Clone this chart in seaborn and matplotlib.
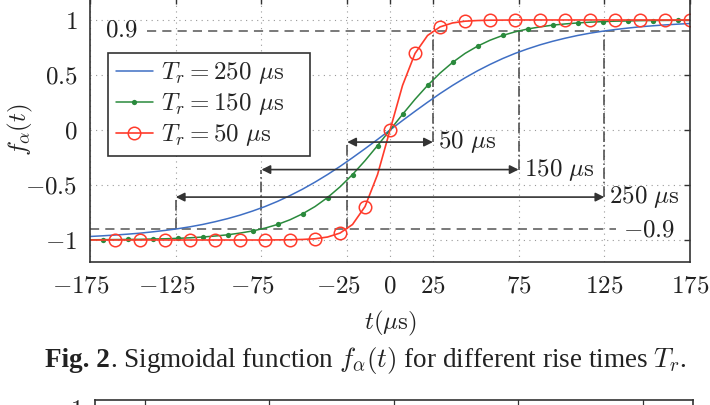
import matplotlib
matplotlib.use("Agg")
import matplotlib.pyplot as plt
from matplotlib.lines import Line2D
from matplotlib.ticker import FuncFormatter
from matplotlib.transforms import ScaledTranslation
import seaborn as sns

# time axis in microseconds
t_us = [-175.0, -167.71, -160.42, -153.13, -145.83, -138.54, -131.25, -123.96,
        -116.67, -109.38, -102.08, -94.79, -87.5, -80.21, -72.92, -65.63,
        -58.33, -51.04, -43.75, -36.46, -29.17, -21.88, -14.58, -7.29, 0.0,
        7.29, 14.58, 21.88, 29.17, 36.46, 43.75, 51.04, 58.33, 65.63, 72.92,
        80.21, 87.5, 94.79, 102.08, 109.38, 116.67, 123.96, 131.25, 138.54,
        145.83, 153.13, 160.42, 167.71, 175.0]

# f_alpha(t) for Tr = 250 us
f_250 = [-0.968, -0.962, -0.955, -0.947, -0.938, -0.926, -0.913, -0.898,
         -0.880, -0.859, -0.834, -0.806, -0.774, -0.737, -0.696, -0.649,
         -0.596, -0.538, -0.474, -0.405, -0.331, -0.252, -0.170, -0.086, 0.0,
         0.086, 0.170, 0.252, 0.331, 0.405, 0.474, 0.538, 0.596, 0.649, 0.696,
         0.737, 0.774, 0.806, 0.834, 0.859, 0.880, 0.898, 0.913, 0.926, 0.938,
         0.947, 0.955, 0.962, 0.968]

# f_alpha(t) for Tr = 150 us
f_150 = [-0.998, -0.997, -0.996, -0.995, -0.994, -0.991, -0.989, -0.985,
         -0.980, -0.973, -0.964, -0.953, -0.937, -0.918, -0.892, -0.859,
         -0.816, -0.762, -0.696, -0.614, -0.517, -0.405, -0.279, -0.142, 0.0,
         0.142, 0.279, 0.405, 0.517, 0.614, 0.696, 0.762, 0.816, 0.859, 0.892,
         0.918, 0.937, 0.953, 0.964, 0.973, 0.980, 0.985, 0.989, 0.991, 0.994,
         0.995, 0.996, 0.997, 0.998]

# f_alpha(t) for Tr = 50 us
f_50 = [-1.0, -1.0, -1.0, -1.0, -1.0, -1.0, -1.0, -1.0, -1.0, -1.0, -1.0,
        -1.0, -1.0, -1.0, -1.0, -0.999, -0.998, -0.995, -0.989, -0.973,
        -0.937, -0.859, -0.696, -0.405, 0.0, 0.405, 0.696, 0.859, 0.937,
        0.973, 0.989, 0.995, 0.998, 0.999, 1.0, 1.0, 1.0, 1.0, 1.0, 1.0, 1.0,
        1.0, 1.0, 1.0, 1.0, 1.0, 1.0, 1.0, 1.0]

x_ticks = [-175, -125, -75, -25, 0, 25, 75, 125, 175]
y_ticks = [-1, -0.5, 0, 0.5, 1]

# rise time spans (arrows)
span_start = [-25, -75, -125]
span_end = [25, 75, 125]
span_y = [-0.11, -0.36, -0.61]
span_text = [r"$50\ \mu\mathrm{s}$", r"$150\ \mu\mathrm{s}$", r"$250\ \mu\mathrm{s}$"]
level = 0.9

# next figure, only its top edge is visible
next_grid = [0.4, 1.4, 2.4, 3.4, 4.4]

blue = "#3f6fc4"
green = "#2a8a3c"
red = "#ff3b2b"
dark = "#333333"
ink = "#222222"
fs = 18

sns.set_theme(style="white")
plt.rcParams.update({
    "font.family": "serif",
    "mathtext.fontset": "cm",
})


def math_tick(v, pos):
    return "$%g$" % v


fig = plt.figure(figsize=(7.1, 4.05), dpi=100)
ax = fig.add_axes([0.1268, 0.3531, 0.8451, 0.6519])

sns.lineplot(x=t_us, y=f_250, ax=ax, color=blue, lw=1.1,
             label=r"$T_r = 250\ \mu\mathrm{s}$")
sns.lineplot(x=t_us, y=f_150, ax=ax, color=green, lw=1.1, marker="o",
             markersize=3.8, markeredgewidth=0, markevery=slice(1, None, 2),
             label=r"$T_r = 150\ \mu\mathrm{s}$")
sns.lineplot(x=t_us, y=f_50, ax=ax, color=red, lw=1.2, marker="o",
             markersize=9, markerfacecolor="none", markeredgecolor=red,
             markeredgewidth=1.1, markevery=slice(2, None, 2),
             label=r"$T_r = 50\ \mu\mathrm{s}$")

# +-0.9 levels
ax.hlines(level, -142, 175, colors="#555555", lw=1.1, linestyles=(0, (6, 4)), zorder=1)
ax.hlines(-level, -175, 132, colors="#555555", lw=1.1, linestyles=(0, (6, 4)), zorder=1)
ax.text(-166, 0.91, r"$0.9$", ha="left", va="center", fontsize=fs, color=ink)
ax.text(136, -0.91, r"$-0.9$", ha="left", va="center", fontsize=fs, color=ink)

# rise time markers
ax.vlines(span_end, span_y, level, colors="#444444", lw=1.1,
          linestyles=(0, (7, 2, 1, 2)), zorder=1)
ax.vlines(span_start, [-level] * 3, span_y, colors="#444444", lw=1.1,
          linestyles=(0, (7, 2, 1, 2)), zorder=1)
for s, e, y, txt in zip(span_start, span_end, span_y, span_text):
    ax.annotate("", xy=(e, y), xytext=(s, y),
                arrowprops=dict(arrowstyle="<|-|>", color=dark, lw=1.2,
                                mutation_scale=13, shrinkA=0, shrinkB=0))
    ax.text(e + 3, y, txt, ha="left", va="center", fontsize=fs, color=ink)

ax.set_xlim(-175, 175)
ax.set_ylim(-1.2, 1.2)
ax.set_xticks(x_ticks)
ax.set_yticks(y_ticks)
ax.xaxis.set_major_formatter(FuncFormatter(math_tick))
ax.yaxis.set_major_formatter(FuncFormatter(math_tick))
ax.grid(True, color="#999999", lw=0.8, linestyle=(0, (1, 4)))
ax.set_axisbelow(True)
for sp in ax.spines.values():
    sp.set_color(dark)
    sp.set_linewidth(1.2)
ax.tick_params(direction="in", length=4, width=1, top=True, right=True,
               color=dark, labelcolor=ink, labelsize=fs, pad=9)
ax.set_xlabel(r"$t(\mu\mathrm{s})$", fontsize=fs, labelpad=8, color=ink)
ax.set_ylabel(r"$f_\alpha(t)$", fontsize=fs, color=ink)
ax.yaxis.set_label_coords(-0.092, 0.5)

# negative labels: digits centred on the tick, minus sign hangs left
shift = ScaledTranslation(-0.09, 0, fig.dpi_scale_trans)
for tick, loc in zip(ax.xaxis.get_major_ticks(), x_ticks):
    if loc < 0:
        tick.label1.set_transform(tick.label1.get_transform() + shift)

# legend, with an empty second column that widens the box on the right
handles, labels = ax.get_legend_handles_labels()
blank = [Line2D([], [], alpha=0) for _ in handles]
leg = ax.legend(handles + blank, labels + [""] * len(blank), ncol=2,
                loc="upper left", bbox_to_anchor=(0.03, 0.792), borderaxespad=0,
                fontsize=fs, fancybox=False, framealpha=1, edgecolor=dark,
                borderpad=0.3, labelspacing=0.2, handlelength=1.5,
                handletextpad=0.3, columnspacing=-1.05)
leg.get_frame().set_linewidth(1.2)

# caption
fig.text(0.155, 0.094, "Fig. 2", ha="right", va="baseline", fontsize=19.5,
         fontweight="bold", family="Liberation Serif", color=ink)
fig.text(0.155, 0.094, r". Sigmoidal function $f_\alpha(t)$ for different rise times $T_r$.",
         ha="left", va="baseline", fontsize=19.5, family="Liberation Serif",
         color=ink)

# top of the following figure
ax2 = fig.add_axes([0.1338, -0.4, 0.842, 0.4123])
ax2.set_xlim(0, 4.8)
ax2.set_ylim(0, 1.05)
ax2.set_xticks(next_grid)
ax2.set_yticks([1])
ax2.yaxis.set_major_formatter(FuncFormatter(math_tick))
ax2.grid(axis="x", color=dark, lw=0.9, linestyle="-")
for sp in ax2.spines.values():
    sp.set_color(dark)
    sp.set_linewidth(1.2)
ax2.tick_params(axis="x", length=0, labelbottom=False)
ax2.tick_params(axis="y", direction="in", length=4, color=dark,
                labelsize=fs, labelcolor=ink, pad=9)

fig.savefig("out.png", dpi=100)
